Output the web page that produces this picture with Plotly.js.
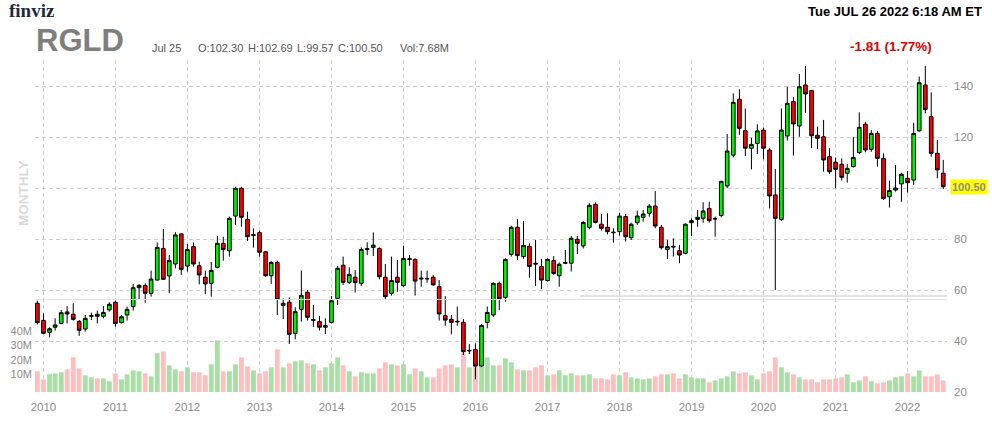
<!DOCTYPE html>
<html><head><meta charset="utf-8">
<script src="https://cdn.plot.ly/plotly-3.0.1.min.js"></script>
<style>html,body{margin:0;padding:0;background:#fff;}#chart{width:992px;height:422px;}</style>
</head><body><div id="chart"></div>
<script>
// Monthly candles, Dec 2009 .. Jul 2022
const firstYear = 2009, firstMonth = 12;
const open = [
 54.8,48.1,43.4,45.4,46.9,51.4,50.5,47.7,44.7,49.7,50.5,49.7,
 52.2,55.2,47.2,50.2,53.5,60.9,61.8,58.7,63.9,76.3,65.5,70.2,
 82.0,69.4,77.0,69.5,65.0,62.6,68.9,78.3,75.4,89.0,99.9,87.7,
 81.4,82.5,75.0,65.6,70.8,53.9,55.2,43.0,52.4,59.1,48.1,47.6,
 45.4,47.3,56.7,69.7,63.0,65.0,62.6,75.9,76.7,76.3,65.0,58.7,
 65.0,61.7,72.0,72.0,64.3,64.3,65.0,61.3,49.9,48.5,47.5,47.3,
 36.1,36.7,30.2,47.3,50.2,62.6,57.1,74.0,84.6,73.1,77.1,70.5,
 69.2,63.7,71.5,65.6,70.5,70.5,79.9,77.3,84.6,93.6,85.8,84.6,
 82.7,82.9,88.8,80.5,86.4,88.5,90.1,92.9,84.6,75.9,77.1,75.4,
 74.4,86.4,87.7,88.1,92.0,87.8,89.2,100.8,112.9,134.8,122.5,115.6,
 117.5,122.7,114.9,97.3,87.7,120.4,133.9,124.3,140.4,138.2,120.7,120.1,
 112.3,110.1,109.3,105.8,108.4,113.9,125.0,115.2,121.4,111.6,96.6,99.2,
 101.6,103.8,103.1,122.4,140.4,128.0,113.6,105.8];
const high = [
 55.8,50.8,45.4,48.9,52.2,53.7,54.8,48.2,50.2,51.1,51.9,53.7,
 55.2,55.8,50.2,53.5,62.4,62.4,62.6,67.6,78.6,83.9,73.7,82.7,
 82.2,78.0,78.6,71.1,67.6,71.0,81.2,80.9,88.8,100.5,100.5,90.7,
 84.2,83.3,75.3,71.4,71.5,56.7,57.1,53.2,67.6,60.0,54.2,49.8,
 48.9,57.6,69.4,73.1,68.9,67.8,76.7,78.7,82.6,76.7,70.2,73.1,
 71.8,77.3,73.7,72.4,67.6,67.6,65.9,63.9,57.6,50.2,53.5,48.6,
 38.8,39.1,46.7,53.5,63.0,63.3,72.4,85.2,87.8,87.1,78.3,79.6,
 72.2,72.4,73.3,70.8,75.7,81.2,81.2,87.1,94.0,94.4,89.8,90.1,
 84.2,90.3,89.8,86.4,91.1,91.4,93.7,98.8,85.5,79.6,80.3,77.6,
 86.1,88.1,91.4,94.4,94.6,88.8,102.9,121.2,137.1,138.7,131.2,119.7,
 125.0,123.7,115.6,107.5,131.2,139.7,135.6,144.7,147.8,138.4,124.1,126.7,
 115.6,111.9,111.6,109.4,120.1,129.7,126.0,122.7,122.4,113.6,102.9,109.0,
 106.0,106.7,125.6,143.7,147.8,137.5,118.8,111.0];
const low = [
 46.5,42.7,41.4,44.1,46.7,46.9,48.0,42.0,43.7,48.2,46.9,48.9,
 51.5,45.6,46.9,48.0,51.9,56.1,55.0,57.4,63.7,63.9,58.7,68.5,
 65.9,67.2,69.2,62.2,58.4,57.4,68.5,71.5,73.1,85.5,84.8,79.2,
 76.6,73.1,65.2,62.4,50.2,48.6,38.8,40.7,47.6,48.0,45.6,44.1,
 42.7,46.9,54.1,62.0,62.4,59.0,61.6,73.7,73.3,64.2,56.1,57.8,
 59.3,61.3,69.5,57.8,61.3,62.9,61.7,48.0,46.0,42.6,46.0,34.5,
 34.9,25.0,29.7,45.0,49.5,52.2,55.4,73.1,71.8,72.2,64.8,61.6,
 60.3,63.3,65.9,61.3,70.2,67.2,74.1,76.3,83.8,86.1,83.3,81.8,
 78.6,81.3,79.0,79.6,85.5,86.8,88.8,84.2,75.9,72.2,73.1,70.5,
 74.0,81.2,84.8,86.4,86.4,80.9,88.5,99.9,112.0,120.8,112.5,107.3,
 113.3,111.2,92.0,60.0,87.1,118.6,112.7,120.1,129.5,115.6,115.3,106.4,
 105.5,99.9,102.9,102.1,108.0,113.3,114.0,114.2,108.4,95.3,92.3,98.6,
 94.6,98.2,101.2,122.1,129.3,112.3,103.8,99.6];
const close = [
 47.2,43.0,44.8,46.3,51.1,50.6,48.5,44.2,48.9,49.9,49.7,51.2,
 54.4,46.9,49.5,52.4,60.9,61.8,58.7,64.3,76.7,64.2,71.6,81.6,
 68.1,75.9,70.2,65.9,62.4,67.7,78.3,75.9,88.1,99.9,88.5,80.9,
 81.7,74.8,65.6,70.8,56.3,54.8,42.6,51.5,57.9,49.3,48.4,45.4,
 46.1,55.8,68.5,63.0,66.1,62.9,75.9,76.2,77.6,65.2,57.4,63.7,
 63.0,72.4,72.2,63.5,64.6,64.5,62.0,50.6,48.2,47.3,47.7,35.8,
 36.3,30.2,46.1,51.2,62.6,56.5,72.0,84.6,73.5,77.5,69.2,70.2,
 63.9,72.0,66.5,70.1,70.7,80.3,78.3,86.5,93.2,86.5,84.2,82.9,
 82.5,89.0,80.9,85.8,89.0,89.8,92.9,85.1,76.6,77.0,76.9,73.7,
 85.8,87.2,88.5,91.0,87.2,88.0,102.6,114.5,133.6,123.4,115.6,117.1,
 122.4,115.6,96.9,88.1,122.7,133.2,125.1,139.7,136.9,120.5,119.5,111.0,
 106.4,107.3,104.2,107.7,112.0,123.8,114.9,121.4,111.6,95.9,99.0,100.0,
 105.4,102.1,121.4,141.3,130.8,113.6,107.1,100.50];
// volume in millions
const volume = [
 14.3,8.7,12.2,12.9,13.6,15.6,23.9,16.3,11.5,10.1,9.4,9.4,
 7.4,12.9,8.7,12.2,14.9,14.3,12.9,10.8,26.7,28.0,18.4,15.6,
 14.3,17.0,13.6,13.6,11.5,19.1,35.6,14.3,14.3,19.1,23.9,17.7,
 14.9,12.9,14.3,17.0,29.4,17.0,19.8,21.1,21.8,19.8,19.1,14.9,
 17.0,19.8,23.9,18.4,14.3,10.8,13.6,12.9,12.9,16.3,20.5,19.1,
 18.4,19.1,12.2,16.3,14.3,10.1,10.1,16.3,18.4,19.1,17.0,26.7,
 17.0,20.5,22.0,23.9,18.4,18.4,23.2,20.5,15.6,14.9,14.9,17.0,
 18.4,11.5,12.2,14.9,11.5,12.9,11.5,11.5,12.2,9.4,9.4,8.7,
 12.2,11.5,13.6,10.1,9.4,8.7,9.4,10.8,12.2,12.2,12.9,9.4,
 12.2,10.1,9.4,9.4,6.7,8.0,9.4,10.8,14.3,12.9,13.6,11.5,
 8.7,12.9,14.3,23.9,17.0,13.6,12.2,10.1,8.7,8.7,6.7,8.7,
 8.7,9.4,10.1,12.2,6.7,8.0,10.8,7.4,6.0,6.7,8.0,10.1,
 10.8,12.9,10.8,14.9,10.8,10.8,12.2,8.0];
const yearLabels = ['2010','2011','2012','2013','2014','2015','2016','2017','2018','2019','2020','2021','2022'];
const priceTicks = [20,40,60,80,100,120,140];
const volumeTicks = [10,20,30,40];
const volumeTickText = ['10M','20M','30M','40M'];

const dates = open.map((_, i) => {
  const m0 = firstMonth - 1 + i;
  const y = firstYear + Math.floor(m0 / 12);
  const m = (m0 % 12) + 1;
  return y + '-' + String(m).padStart(2, '0') + '-01';
});
const volColors = close.map((c, i) => c >= open[i] ? '#a9dfa6' : '#fdbfbf');
const lastClose = close[close.length - 1];

// plot area in px: x 35..947, y 60..392
const L = 35, R = 947, T = 60, B = 392;
const px = x => (x - L) / (R - L);
const py = y => (B - y) / (B - T);
const FONT = 'Arial, "Liberation Sans", Helvetica, sans-serif';

const traces = [
  { type: 'bar', x: dates, y: volume, yaxis: 'y', marker: { color: volColors, line: { width: 0 } },
    hoverinfo: 'skip' },
  { type: 'candlestick', x: dates, open: open, high: high, low: low, close: close, yaxis: 'y2',
    whiskerwidth: 0,
    increasing: { fillcolor: '#00f000', line: { color: '#000', width: 1 } },
    decreasing: { fillcolor: '#ff0000', line: { color: '#000', width: 1 } },
    hoverinfo: 'skip' }
];

const grid = '#cfcfcf';
const layout = {
  width: 992, height: 422,
  margin: { l: L, r: 992 - R, t: T, b: 422 - B, pad: 0 },
  paper_bgcolor: '#fff', plot_bgcolor: '#fff',
  showlegend: false, bargap: 0.12, boxgap: 0.05,
  font: { family: FONT },
  xaxis: {
    type: 'date', range: ['2009-11-19', '2022-07-20'],
    tickvals: yearLabels.map(y => y + '-01-01'), ticktext: yearLabels,
    showgrid: true, gridcolor: grid, griddash: '4px,3px', gridwidth: 1,
    ticks: '', showline: false, zeroline: false,
    tickfont: { size: 11.5, color: '#8c8c8c' }, ticklabelstandoff: 6,
    rangeslider: { visible: false }, fixedrange: true
  },
  yaxis: {
    range: [0, (B - T) / 1.45], side: 'left',
    tickvals: volumeTicks, ticktext: volumeTickText,
    showgrid: false, zeroline: false, showline: false, ticks: '',
    tickfont: { size: 11, color: '#8c8c8c' }, ticklabelshift: -3, ticklabelstandoff: 2,
    fixedrange: true
  },
  yaxis2: {
    overlaying: 'y', side: 'right', range: [20, 150.2],
    tickvals: priceTicks, ticktext: priceTicks.map(v => v === 100 ? '' : String(v)),
    showgrid: true, gridcolor: grid, griddash: '4px,3px', gridwidth: 1,
    zeroline: false, showline: false, ticks: '',
    tickfont: { size: 11.5, color: '#8c8c8c' }, ticklabelstandoff: 6,
    fixedrange: true
  },
  shapes: [
    { type: 'line', xref: 'paper', yref: 'paper', x0: 0, x1: 1, y0: py(299.5), y1: py(299.5),
      line: { color: '#e2e2e2', width: 1 } },
    { type: 'line', xref: 'paper', yref: 'paper', x0: px(580), x1: 1, y0: py(296), y1: py(296),
      line: { color: '#c8c8c8', width: 1 } }
  ],
  annotations: [
    { text: '<b>finviz</b>', xref: 'paper', yref: 'paper', x: px(7), y: py(11), xanchor: 'left', yanchor: 'middle',
      showarrow: false, font: { family: '"Liberation Serif", "DejaVu Serif", serif', size: 19, color: '#1d2b3d' } },
    { text: '<b>RGLD</b>', xref: 'paper', yref: 'paper', x: px(34), y: py(41), xanchor: 'left', yanchor: 'middle',
      showarrow: false, font: { family: FONT, size: 31, color: '#7f7f7f' } },
    { text: 'Jul 25', xref: 'paper', yref: 'paper', x: px(150), y: py(48), xanchor: 'left', yanchor: 'middle',
      showarrow: false, font: { size: 11, color: '#555' } },
    { text: 'O:102.30', xref: 'paper', yref: 'paper', x: px(196), y: py(48), xanchor: 'left', yanchor: 'middle',
      showarrow: false, font: { size: 11, color: '#555' } },
    { text: 'H:102.69', xref: 'paper', yref: 'paper', x: px(246), y: py(48), xanchor: 'left', yanchor: 'middle',
      showarrow: false, font: { size: 11, color: '#555' } },
    { text: 'L:99.57', xref: 'paper', yref: 'paper', x: px(295), y: py(48), xanchor: 'left', yanchor: 'middle',
      showarrow: false, font: { size: 11, color: '#555' } },
    { text: 'C:100.50', xref: 'paper', yref: 'paper', x: px(336), y: py(48), xanchor: 'left', yanchor: 'middle',
      showarrow: false, font: { size: 11, color: '#555' } },
    { text: 'Vol:7.68M', xref: 'paper', yref: 'paper', x: px(398), y: py(48), xanchor: 'left', yanchor: 'middle',
      showarrow: false, font: { size: 11, color: '#555' } },
    { text: '<b>Tue JUL 26 2022 6:18 AM ET</b>', xref: 'paper', yref: 'paper', x: px(984), y: py(12), xanchor: 'right', yanchor: 'middle',
      showarrow: false, font: { size: 13, color: '#000' } },
    { text: '<b>-1.81 (1.77%)</b>', xref: 'paper', yref: 'paper', x: px(934), y: py(47), xanchor: 'right', yanchor: 'middle',
      showarrow: false, font: { size: 13.5, color: '#e00000' } },
    { text: '<b>MONTHLY</b>', xref: 'paper', yref: 'paper', x: px(23), y: py(193), xanchor: 'center', yanchor: 'middle',
      textangle: -90, showarrow: false, font: { size: 13.5, color: '#d9d9d9' } },
    { text: lastClose.toFixed(2), xref: 'paper', yref: 'y2', x: 1, y: lastClose, xanchor: 'left', yanchor: 'middle',
      xshift: 3, showarrow: false, bgcolor: '#ffff00', borderpad: 1,
      font: { size: 11, color: '#8c8c8c', weight: 'bold' } }
  ]
};

Plotly.newPlot('chart', traces, layout, { staticPlot: true, displayModeBar: false });
</script>
</body></html>
